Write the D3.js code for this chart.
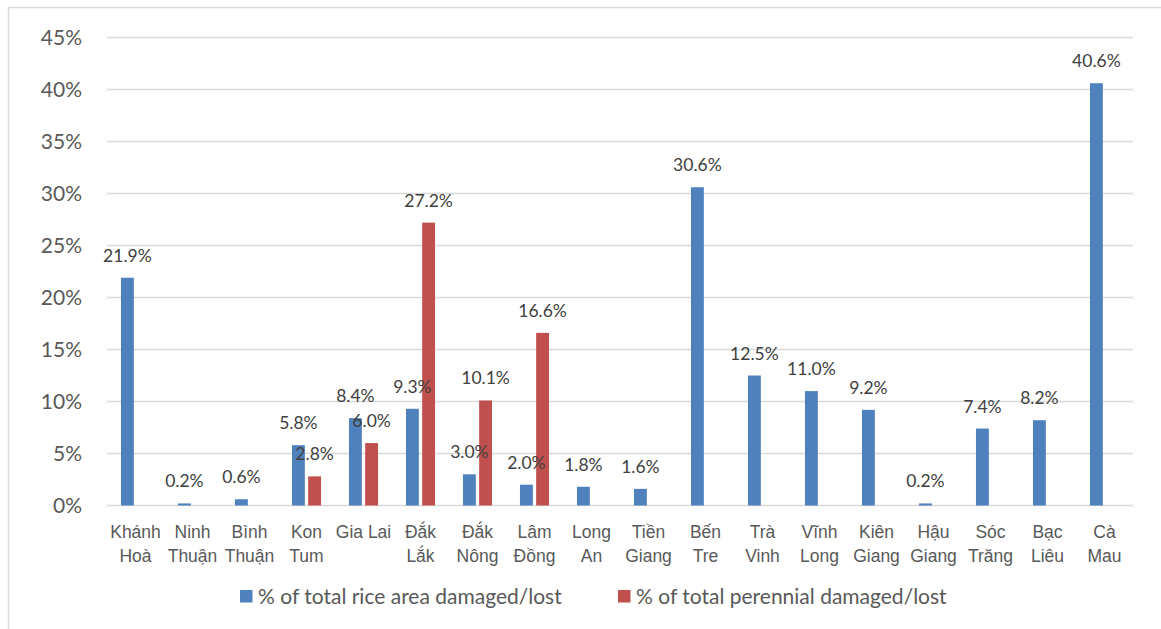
<!DOCTYPE html>
<html>
<head>
<meta charset="utf-8">
<script src="https://cdn.jsdelivr.net/npm/d3@7"></script>
<style>
  html, body { margin: 0; padding: 0; background: #fff; }
  svg { display: block; font-family: Lato, "Open Sans", sans-serif; }
</style>
</head>
<body>
<svg id="chart" width="1161" height="629"></svg>
<script>
// Provinces along the x axis
const categories = [
  "Khánh Hoà", "Ninh Thuận", "Bình Thuận", "Kon Tum", "Gia Lai", "Đắk Lắk",
  "Đắk Nông", "Lâm Đồng", "Long An", "Tiền Giang", "Bến Tre", "Trà Vinh",
  "Vĩnh Long", "Kiên Giang", "Hậu Giang", "Sóc Trăng", "Bạc Liêu", "Cà Mau"
];
// How each province name wraps under the axis
const categoryLines = [
  ["Khánh", "Hoà"], ["Ninh", "Thuận"], ["Bình", "Thuận"], ["Kon", "Tum"], ["Gia Lai"], ["Đắk", "Lắk"],
  ["Đắk", "Nông"], ["Lâm", "Đồng"], ["Long", "An"], ["Tiền", "Giang"], ["Bến", "Tre"], ["Trà", "Vinh"],
  ["Vĩnh", "Long"], ["Kiên", "Giang"], ["Hậu", "Giang"], ["Sóc", "Trăng"], ["Bạc", "Liêu"], ["Cà", "Mau"]
];
// % of total rice area damaged/lost
const riceDamaged = [21.9, 0.2, 0.6, 5.8, 8.4, 9.3, 3.0, 2.0, 1.8, 1.6, 30.6, 12.5, 11.0, 9.2, 0.2, 7.4, 8.2, 40.6];
// % of total perennial damaged/lost (null = no value reported)
const perennialDamaged = [null, null, null, 2.8, 6.0, 27.2, 10.1, 16.6, null, null, null, null, null, null, null, null, null, null];
// Y axis ticks, in percent
const yTicks = [0, 5, 10, 15, 20, 25, 30, 35, 40, 45];

const seriesNames = ["% of total rice area damaged/lost", "% of total perennial damaged/lost"];
const seriesKeys = ["rice", "perennial"];
const colors = { rice: "#4F81BD", perennial: "#C0504D" };

const rows = categories.map((c, i) => ({
  category: c, lines: categoryLines[i],
  rice: riceDamaged[i], perennial: perennialDamaged[i]
}));

const svg = d3.select("#chart");
const plot = { left: 107, right: 1133, top: 37.5, bottom: 505.5 };

// Outer chart frame (left and top edges fall inside the canvas)
svg.append("path")
  .attr("d", "M8.5,629 V7.5 H1161")
  .attr("fill", "none").attr("stroke", "#d9d9d9").attr("stroke-width", 1.5);

const x = d3.scaleBand().domain(categories).range([plot.left, plot.right]).padding(0);
const xs = d3.scaleBand().domain(seriesKeys)
  .range([x.bandwidth() * 0.245, x.bandwidth() * 0.755]).paddingInner(0.205);
const y = d3.scaleLinear().domain([0, 45]).range([plot.bottom, plot.top]);

// Horizontal gridlines
svg.append("g").selectAll("line").data(yTicks).join("line")
  .attr("x1", plot.left).attr("x2", plot.right)
  .attr("y1", d => y(d)).attr("y2", d => y(d))
  .attr("stroke", "#d9d9d9").attr("stroke-width", 1.3);

// Y axis labels
const yAxis = d3.axisLeft(y).tickValues(yTicks).tickFormat(d => d + "%").tickSize(0).tickPadding(0);
const yg = svg.append("g").attr("transform", "translate(82,0)").call(yAxis);
yg.select(".domain").remove();
yg.selectAll("text").attr("fill", "#595959").style("font-size", "21px")
  .style("font-family", "Lato, sans-serif").attr("dy", "0.35em");

// Bars
const groups = svg.append("g").selectAll("g").data(rows).join("g")
  .attr("transform", d => `translate(${x(d.category)},0)`);

groups.selectAll("rect")
  .data(d => seriesKeys.filter(k => d[k] != null).map(k => ({ key: k, value: d[k] })))
  .join("rect")
  .attr("x", d => xs(d.key))
  .attr("width", xs.bandwidth())
  .attr("y", d => y(d.value))
  .attr("height", d => y(0) - y(d.value))
  .attr("fill", d => colors[d.key]);

// Value labels above bars
groups.selectAll("text.val")
  .data(d => seriesKeys.filter(k => d[k] != null).map(k => ({ key: k, value: d[k] })))
  .join("text").attr("class", "val")
  .attr("x", d => xs(d.key) + xs.bandwidth() / 2)
  .attr("y", d => y(d.value) - 16)
  .attr("text-anchor", "middle")
  .attr("fill", "#404040")
  .style("font-size", "17.5px")
  .text(d => d.value.toFixed(1) + "%");

// Category labels
const xAxis = d3.axisBottom(x).tickSize(0).tickFormat("");
const xg = svg.append("g").attr("transform", `translate(0,${plot.bottom})`).call(xAxis);
xg.select(".domain").remove();
xg.selectAll(".tick").each(function (c, i) {
  const t = d3.select(this).append("text")
    .attr("text-anchor", "middle").attr("fill", "#595959")
    .style("font-size", "17.5px");
  categoryLines[i].forEach((line, j) => {
    t.append("tspan").attr("x", 0).attr("y", 32.5 + j * 23.5).text(line);
  });
});

// Legend
const legendX = [240, 618];
const legend = svg.append("g").selectAll("g").data(seriesKeys).join("g")
  .attr("transform", (d, i) => `translate(${legendX[i]},590)`);
legend.append("rect").attr("width", 12.5).attr("height", 12.5).attr("fill", d => colors[d]);
legend.append("text").attr("x", 18).attr("y", 14)
  .attr("fill", "#595959").style("font-size", "21px")
  .text((d, i) => seriesNames[i]);
</script>
</body>
</html>
